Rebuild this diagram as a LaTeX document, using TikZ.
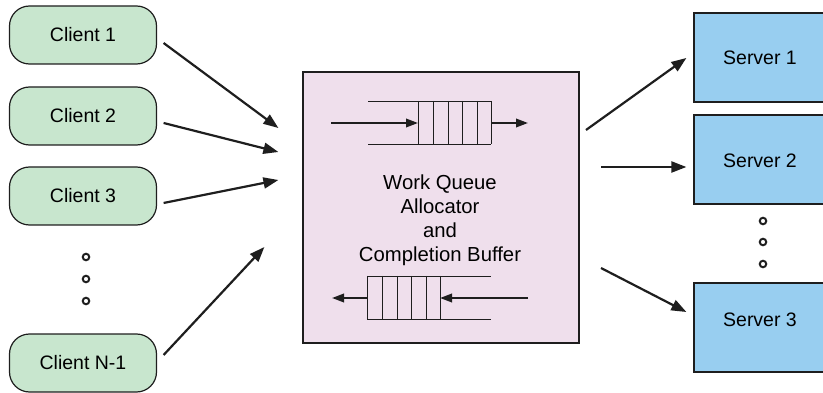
\documentclass[tikz,border=0pt]{standalone}
\usepackage{fontspec}
\setmainfont{Liberation Sans}
\usetikzlibrary{arrows.meta,calc}
\definecolor{cgreen}{RGB}{200,230,206}
\definecolor{sblue}{RGB}{152,206,240}
\definecolor{wpink}{RGB}{239,223,236}
\definecolor{ink}{RGB}{30,30,30}
\begin{document}
\begin{tikzpicture}[x=1pt,y=-1pt,
  client/.style={draw=ink,line width=1.2pt,fill=cgreen,rounded corners=20pt,minimum width=147pt,minimum height=58pt,inner sep=0pt,font=\fontsize{19.5}{24}\selectfont},
  server/.style={draw=ink,line width=1.2pt,fill=sblue,minimum width=132pt,minimum height=89pt,inner sep=0pt},
  slabel/.style={font=\fontsize{19.5}{24}\selectfont,inner sep=0pt},
  wlabel/.style={font=\fontsize{20.3}{24}\selectfont,inner sep=0pt},
  wbox/.style={draw=ink,line width=1.2pt,fill=wpink,minimum width=276pt,minimum height=271pt,inner sep=0pt},
  arr/.style={line width=2.2pt,draw=ink,-{Triangle[length=15pt,width=11pt]}},
  qarr/.style={line width=2pt,draw=ink,-{Triangle[length=12pt,width=8.5pt]}},
  qline/.style={line width=0.9pt,draw=ink},
  dot/.style={circle,draw=ink,line width=2pt,minimum size=6.5pt,inner sep=0pt}]
\useasboundingbox (0,0) rectangle (823,393);
% clients
\node[client] (c1) at (83,35) {Client 1};
\node[client] (c2) at (83,116) {Client 2};
\node[client] (c3) at (83,196) {Client 3};
\node[client] (cn) at (83,363) {Client N-1};
\node[dot] (cd1) at (86,257) {};
\node[dot] (cd2) at (86,279) {};
\node[dot] (cd3) at (86,301) {};
% central box
\node[wbox] (wq) at (441,207.5) {};
\node[wlabel,align=center] (wqt) at (440,220) {Work Queue\\Allocator\\and\\Completion Buffer};
% top queue
\draw[qline] (368,101) -- (491,101) (368,144) -- (491,144);
\foreach \x in {418,433,448,462,477,491} \draw[qline] (\x,101) -- (\x,144);
\coordinate (tqin) at (331,123);
\coordinate (tqh) at (418,123);
\coordinate (tqt) at (491,123);
\coordinate (tqout) at (528,123);
\draw[qarr] (tqin) -- (tqh);
\draw[qarr] (tqt) -- (tqout);
% bottom queue
\draw[qline] (367,276) -- (491,276) (367,319) -- (491,319);
\foreach \x in {367,382,397,411,426,440} \draw[qline] (\x,276) -- (\x,319);
\coordinate (bqin) at (528,298);
\coordinate (bqh) at (440,298);
\coordinate (bqt) at (367,298);
\coordinate (bqout) at (332,298);
\draw[qarr] (bqin) -- (bqh);
\draw[qarr] (bqt) -- (bqout);
% servers
\node[server] (s1) at (760,57.5) {};
\node[slabel] at (760,58) {Server 1};
\node[server] (s2) at (760,159.5) {};
\node[slabel] at (760,161) {Server 2};
\node[server] (s3) at (760,327.5) {};
\node[slabel] at (760,320) {Server 3};
\node[dot] (sd1) at (763,221) {};
\node[dot] (sd2) at (763,242) {};
\node[dot] (sd3) at (763,264) {};
% client arrows
\coordinate (a1s) at ($(c1.east)+(6.5,8)$);
\coordinate (a1e) at ($(wq.west)+(-24,-79.5)$);
\coordinate (a2s) at ($(c2.east)+(6.5,7)$);
\coordinate (a2e) at ($(wq.west)+(-24,-55.5)$);
\coordinate (a3s) at ($(c3.east)+(6.5,7)$);
\coordinate (a3e) at ($(wq.west)+(-24,-27.5)$);
\coordinate (a4s) at ($(cn.east)+(6.5,-8)$);
\coordinate (a4e) at ($(wq.west)+(-38,39.5)$);
\draw[arr] (a1s) -- (a1e);
\draw[arr] (a2s) -- (a2e);
\draw[arr] (a3s) -- (a3e);
\draw[arr] (a4s) -- (a4e);
% server arrows
\coordinate (b1s) at (586,130);
\coordinate (b2s) at (601,167);
\coordinate (b3s) at (601,268);
\draw[arr] (b1s) -- ($(s1.west)+(-7,0.5)$);
\draw[arr] (b2s) -- ($(s2.west)+(-7,7.5)$);
\draw[arr] (b3s) -- ($(s3.west)+(-7,-15.5)$);
\end{tikzpicture}
\end{document}
